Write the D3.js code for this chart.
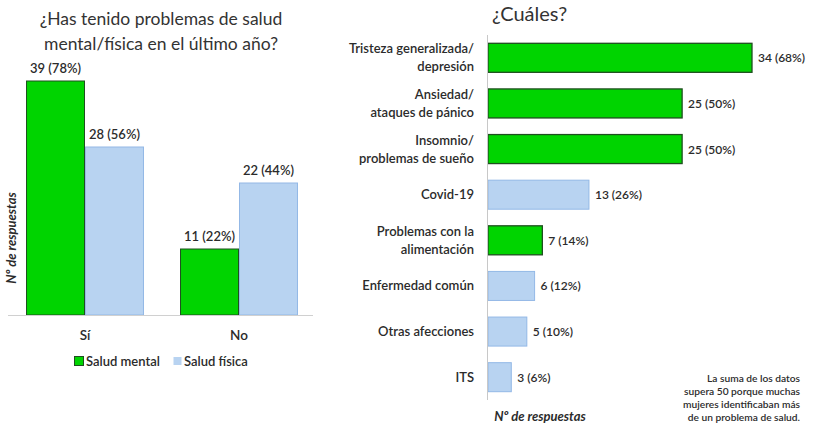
<!DOCTYPE html>
<html>
<head>
<meta charset="utf-8">
<script src="https://cdn.jsdelivr.net/npm/d3@7"></script>
<style>
  html, body { margin: 0; padding: 0; background: #fff; }
  svg { display: block; font-family: Lato, "Open Sans", sans-serif; }
</style>
</head>
<body>
<svg id="chart" width="815" height="426"></svg>
<script>
// Left panel: problems in the last year
const groups = ["Sí", "No"];
const seriesNames = ["Salud mental", "Salud física"];
const mentalValues = [39, 11];
const physicalValues = [28, 22];
const mentalLabels = ["39 (78%)", "11 (22%)"];
const physicalLabels = ["28 (56%)", "22 (44%)"];

// Right panel: which problems
const problems = [
  ["Tristeza generalizada/", "depresión"],
  ["Ansiedad/", "ataques de pánico"],
  ["Insomnio/", "problemas de sueño"],
  ["Covid-19"],
  ["Problemas con la", "alimentación"],
  ["Enfermedad común"],
  ["Otras afecciones"],
  ["ITS"]
];
const problemValues = [34, 25, 25, 13, 7, 6, 5, 3];
const problemLabels = ["34 (68%)", "25 (50%)", "25 (50%)", "13 (26%)", "7 (14%)", "6 (12%)", "5 (10%)", "3 (6%)"];
const problemType = ["mental", "mental", "mental", "física", "mental", "física", "física", "física"];

const GREEN = "#00d400", GREEN_EDGE = "#1f4f1f";
const BLUE = "#b8d3f1", BLUE_EDGE = "#93b8e6";
const TEXT = "#2b2b2b";

const svg = d3.select("#chart");

// ---------- Left grouped bar chart ----------
const L = { left: 8, right: 316, base: 315 };
const x0 = d3.scaleBand().domain(groups).range([L.left, L.right]).paddingInner(0.234).paddingOuter(0.117);
const x1 = d3.scaleBand().domain(seriesNames).range([0, x0.bandwidth()]);
const yL = d3.scaleLinear().domain([0, 39]).range([L.base, L.base - 234]);

const left = svg.append("g");

left.append("text")
  .attr("x", 161).attr("y", 25).attr("text-anchor", "middle")
  .attr("font-size", 17.5).attr("fill", "#333")
  .selectAll("tspan").data(["¿Has tenido problemas de salud", "mental/física en el último año?"])
  .join("tspan").attr("x", 161).attr("dy", (d, i) => i ? 25 : 0).text(d => d);

const leftData = groups.map((g, i) => ({
  g,
  bars: [
    { s: seriesNames[0], v: mentalValues[i], label: mentalLabels[i] },
    { s: seriesNames[1], v: physicalValues[i], label: physicalLabels[i] }
  ]
}));

const gg = left.selectAll("g.grp").data(leftData).join("g")
  .attr("transform", d => `translate(${x0(d.g)},0)`);

gg.selectAll("rect").data(d => d.bars).join("rect")
  .attr("x", d => x1(d.s) + 0.5)
  .attr("y", d => yL(d.v))
  .attr("width", x1.bandwidth() - 1)
  .attr("height", d => yL(0) - yL(d.v))
  .attr("fill", d => d.s === seriesNames[0] ? GREEN : BLUE)
  .attr("stroke", d => d.s === seriesNames[0] ? GREEN_EDGE : BLUE_EDGE)
  .attr("stroke-width", 1);

gg.selectAll("text.val").data(d => d.bars).join("text")
  .attr("class", "val")
  .attr("x", d => x1(d.s) + x1.bandwidth() / 2)
  .attr("y", d => yL(d.v) - 8)
  .attr("text-anchor", "middle")
  .attr("font-size", 13).attr("font-weight", 600).attr("fill", TEXT)
  .text(d => d.label);

// baseline
left.append("line")
  .attr("x1", L.left).attr("x2", 313)
  .attr("y1", L.base + 0.5).attr("y2", L.base + 0.5)
  .attr("stroke", "#d0d0d0");

const xAxisL = d3.axisBottom(x0).tickSize(0).tickPadding(15);
left.append("g").attr("transform", `translate(0,${L.base})`).call(xAxisL)
  .call(g => g.select(".domain").remove())
  .call(g => g.selectAll("text").attr("font-size", 13.5).attr("font-weight", 600).attr("fill", TEXT).attr("font-family", "Lato, sans-serif"));

left.append("text")
  .attr("transform", "translate(16,238) rotate(-90)")
  .attr("text-anchor", "middle").attr("font-size", 13)
  .attr("font-style", "italic").attr("font-weight", 700).attr("fill", TEXT)
  .text("Nº de respuestas");

// legend
const legend = left.append("g").attr("transform", "translate(74,361)");
const legendItems = [
  { name: seriesNames[0], fill: GREEN, stroke: GREEN_EDGE, x: 0, size: 9 },
  { name: seriesNames[1], fill: BLUE, stroke: "none", x: 99, size: 8 }
];
const li = legend.selectAll("g").data(legendItems).join("g").attr("transform", d => `translate(${d.x},0)`);
li.append("rect").attr("x", 0.5).attr("y", d => -d.size / 2).attr("width", d => d.size).attr("height", d => d.size)
  .attr("fill", d => d.fill).attr("stroke", d => d.stroke);
li.append("text").attr("x", d => d.size + 3).attr("y", 4.5).attr("font-size", 13).attr("font-weight", 600)
  .attr("fill", TEXT).text(d => d.name);

// ---------- Right horizontal bar chart ----------
const R = { left: 488, top: 35, bottom: 400 };
const xR = d3.scaleLinear().domain([0, 34]).range([R.left, R.left + 264]);
const yR = d3.scaleBand().domain(d3.range(problems.length)).range([R.top, R.bottom])
  .paddingInner(0.364).paddingOuter(0.182);

const right = svg.append("g");

right.append("text").attr("x", 492).attr("y", 21).attr("font-size", 20).attr("fill", "#333").text("¿Cuáles?");

right.selectAll("rect.bar").data(problemValues).join("rect")
  .attr("class", "bar")
  .attr("x", xR(0))
  .attr("y", (d, i) => yR(i))
  .attr("width", d => xR(d) - xR(0))
  .attr("height", yR.bandwidth())
  .attr("fill", (d, i) => problemType[i] === "mental" ? GREEN : BLUE)
  .attr("stroke", (d, i) => problemType[i] === "mental" ? GREEN_EDGE : BLUE_EDGE)
  .attr("stroke-width", (d, i) => problemType[i] === "mental" ? 1.3 : 1);

right.selectAll("text.val").data(problemValues).join("text")
  .attr("class", "val")
  .attr("x", d => xR(d) + 6)
  .attr("y", (d, i) => yR(i) + yR.bandwidth() / 2 + 4.5)
  .attr("font-size", 12).attr("font-weight", 600).attr("fill", TEXT)
  .text((d, i) => problemLabels[i]);

// vertical axis line
right.append("line")
  .attr("x1", R.left - 0.5).attr("x2", R.left - 0.5)
  .attr("y1", R.top).attr("y2", R.bottom)
  .attr("stroke", "#c8c8c8");

// category labels
right.selectAll("text.cat").data(problems).join("text")
  .attr("class", "cat")
  .attr("text-anchor", "end")
  .attr("font-size", 13).attr("font-weight", 600).attr("fill", TEXT)
  .each(function (lines, i) {
    const cy = yR(i) + yR.bandwidth() / 2;
    const lh = 18;
    const y0 = cy - (lines.length - 1) * lh / 2 + 4.5;
    d3.select(this).selectAll("tspan").data(lines).join("tspan")
      .attr("x", 474).attr("y", (d, j) => y0 + j * lh).text(d => d);
  });

right.append("text").attr("x", 540).attr("y", 421).attr("text-anchor", "middle")
  .attr("font-size", 13).attr("font-style", "italic").attr("font-weight", 700).attr("fill", TEXT)
  .text("Nº de respuestas");

right.append("text").attr("text-anchor", "end").attr("font-size", 10.2).attr("font-weight", 600).attr("fill", TEXT)
  .selectAll("tspan")
  .data(["La suma de los datos", "supera 50 porque muchas", "mujeres identificaban más", "de  un problema de salud."])
  .join("tspan").attr("x", 800).attr("y", (d, i) => 381.5 + i * 13).text(d => d);
</script>
</body>
</html>
